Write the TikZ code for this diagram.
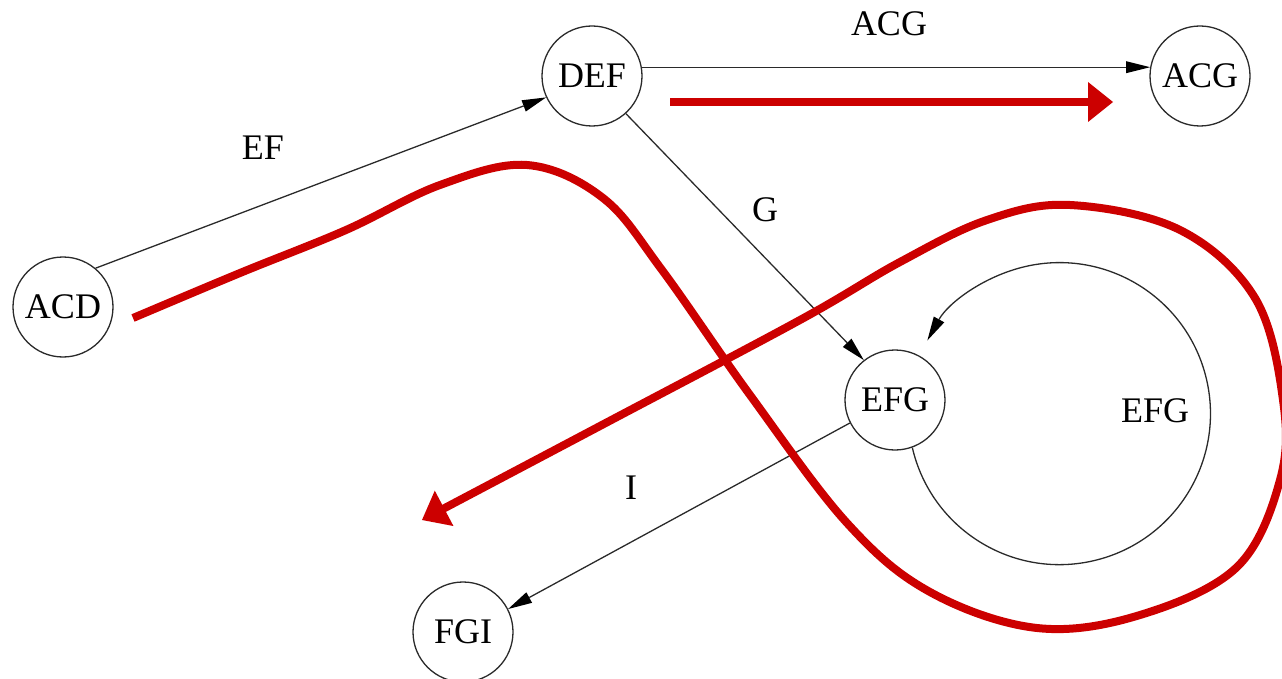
\documentclass[tikz,border=0pt]{standalone}
\usepackage{fontspec}
\setmainfont{Liberation Serif}
\usetikzlibrary{arrows.meta}
\definecolor{hlred}{HTML}{CC0000}
\definecolor{edgecol}{HTML}{2A2A2A}
\begin{document}
\begin{tikzpicture}[x=1pt,y=1pt,
  state/.style={circle, draw=edgecol, line width=1.3pt, minimum size=100pt, inner sep=0pt, font=\fontsize{36}{40}\selectfont},
  lbl/.style={font=\fontsize{36}{40}\selectfont, inner sep=0pt},
  edge/.style={draw=edgecol, line width=1.3pt, -{Triangle[length=24pt,width=12pt,line width=0pt,fill=black]}},
  hl/.style={draw=hlred, line width=8pt, line join=round, -{Triangle[length=25pt,width=40pt,line width=0pt]}}]
\useasboundingbox (0,0) rectangle (1282,-679);
\clip (0,0) rectangle (1282,-679);

% nodes
\node[state] (ACD) at (63,-307) {ACD};
\node[state] (DEF) at (592,-76) {DEF};
\node[state] (ACG) at (1200,-76) {ACG};
\node[state] (EFG) at (895,-400) {EFG};
\node[state] (FGI) at (463,-632) {FGI};

% edges
\draw[edge] (ACD.50) -- (DEF.205);
\draw[edge] (DEF.10) -- (ACG.170);
\draw[edge] (DEF.-48) -- (EFG.128);
\draw[edge] (EFG.207) -- (FGI.27);
\draw[edge] (EFG.-70) arc[start angle=193, end angle=511, radius=151pt];

% edge labels
\node[lbl] (lEF) at (263,-148) {EF};
\node[lbl] (lACG) at (889,-24) {ACG};
\node[lbl] (lG) at (765,-210) {G};
\node[lbl] (lI) at (631,-488) {I};
\node[lbl] (lEFG) at (1155,-411) {EFG};

% red annotations
\coordinate (r1s) at (670,-102);
\coordinate (r1e) at (1113,-102);
\draw[hl] (r1s) -- (r1e);

\draw[hl] plot[smooth, tension=0.6] coordinates {
  (133,-318) (240,-273) (346,-230) (440,-185) (527,-165) (603,-198)
  (662,-270) (750,-395) (847,-523) (930,-592) (1037,-628) (1140,-615)
  (1237,-567) (1280,-480) (1283,-400) (1255,-298) (1180,-230) (1070,-205)
  (987,-220) (900,-262) (800,-320) (600,-426) (422,-520)};
\end{tikzpicture}
\end{document}
